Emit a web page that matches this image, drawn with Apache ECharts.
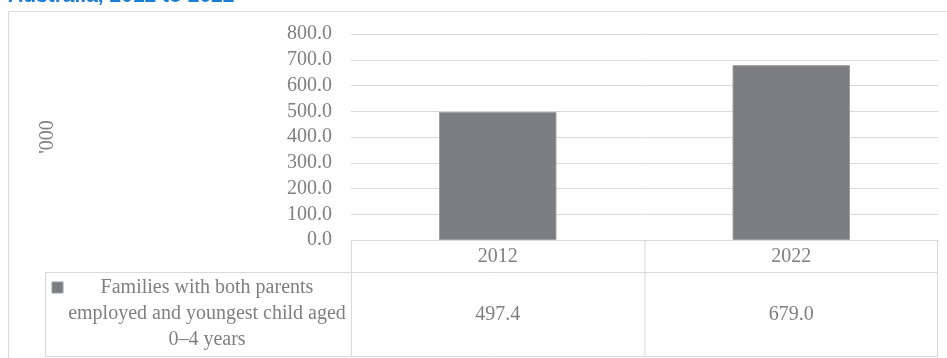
<!DOCTYPE html>
<html>
<head>
<meta charset="utf-8">
<script src="https://cdn.jsdelivr.net/npm/echarts@6/dist/echarts.min.js"></script>
<style>
  html, body { margin: 0; padding: 0; background: #ffffff; }
  #chart { width: 947px; height: 358px; }
</style>
</head>
<body>
<div id="chart"></div>
<script>
// Chart data
const titleText = 'Australia, 2012 to 2022';
const categories = ['2012', '2022'];
const seriesName = 'Families with both parents\nemployed and youngest child aged\n0\u20134 years';
const values = [497.4, 679.0];
const unitLabel = "'000";

const SERIF = 'Liberation Serif';
const TEXT_GREY = '#7f7f7f';
const LINE_GREY = '#d9d9d9';
const BAR_FILL = '#7c7d81';

const chart = echarts.init(document.getElementById('chart'), null, { renderer: 'canvas' });

const gridLeft = 351, gridRight = 938, gridTop = 34, gridBottom = 240;
const tableLeft = 45, headerBottom = 272, tableBottom = 356;

chart.setOption({
  animation: false,
  backgroundColor: '#ffffff',
  grid: { left: gridLeft, right: 947 - gridRight, top: gridTop, bottom: 358 - gridBottom, containLabel: false },
  xAxis: [
    {
      type: 'category',
      data: categories,
      axisLine: { show: true, lineStyle: { color: LINE_GREY, width: 1 } },
      axisTick: { show: false },
      axisLabel: { color: TEXT_GREY, fontFamily: SERIF, fontSize: 20, margin: 7 },
      splitLine: { show: false }
    },
    {
      // value row of the data table
      type: 'category',
      data: categories,
      position: 'bottom',
      offset: 60,
      axisLine: { show: false },
      axisTick: { show: false },
      axisLabel: {
        color: TEXT_GREY, fontFamily: SERIF, fontSize: 20, margin: 5,
        formatter: (v, i) => values[i].toFixed(1)
      }
    }
  ],
  yAxis: {
    type: 'value',
    min: 0,
    max: 800,
    interval: 100,
    name: unitLabel,
    nameLocation: 'middle',
    nameGap: 293,
    nameRotate: 90,
    nameTextStyle: { color: TEXT_GREY, fontFamily: SERIF, fontSize: 20 },
    axisLine: { show: false },
    axisTick: { show: false },
    axisLabel: { color: TEXT_GREY, fontFamily: SERIF, fontSize: 20, margin: 19, formatter: v => v.toFixed(1) },
    splitLine: { lineStyle: { color: LINE_GREY, width: 1 } }
  },
  series: [
    {
      name: seriesName,
      type: 'bar',
      xAxisIndex: 0,
      data: values,
      barCategoryGap: '60%',
      itemStyle: { color: BAR_FILL, borderColor: '#9c9ca0', borderWidth: 1 }
    }
  ],
  graphic: [
    // outer frame
    { type: 'rect', shape: { x: 8.5, y: 11.5, width: 945, height: 380 },
      style: { fill: 'none', stroke: LINE_GREY, lineWidth: 1 }, silent: true, z: 0 },
    // title (last line of the heading)
    { type: 'text', left: 8, top: -14,
      style: { text: titleText, fill: '#1a7fd4', font: 'bold 21px "Liberation Sans", Arial, sans-serif' }, z: 10 },
    // data table lines
    { type: 'polyline', silent: true, z: 5,
      shape: { points: [[gridLeft + 0.5, gridBottom], [gridLeft + 0.5, tableBottom + 0.5]] },
      style: { stroke: LINE_GREY, lineWidth: 1 } },
    { type: 'polyline', silent: true, z: 5,
      shape: { points: [[(gridLeft + gridRight) / 2 + 0.5, gridBottom], [(gridLeft + gridRight) / 2 + 0.5, tableBottom + 0.5]] },
      style: { stroke: LINE_GREY, lineWidth: 1 } },
    { type: 'polyline', silent: true, z: 5,
      shape: { points: [[gridRight - 0.5, gridBottom], [gridRight - 0.5, tableBottom + 0.5]] },
      style: { stroke: LINE_GREY, lineWidth: 1 } },
    { type: 'polyline', silent: true, z: 5,
      shape: { points: [[tableLeft + 0.5, headerBottom + 0.5], [gridRight, headerBottom + 0.5]] },
      style: { stroke: LINE_GREY, lineWidth: 1 } },
    { type: 'polyline', silent: true, z: 5,
      shape: { points: [[tableLeft + 0.5, tableBottom + 0.5], [gridRight, tableBottom + 0.5]] },
      style: { stroke: LINE_GREY, lineWidth: 1 } },
    { type: 'polyline', silent: true, z: 5,
      shape: { points: [[tableLeft + 0.5, headerBottom + 0.5], [tableLeft + 0.5, tableBottom + 0.5]] },
      style: { stroke: LINE_GREY, lineWidth: 1 } },
    // legend key in the data table
    { type: 'rect', silent: true, z: 6,
      shape: { x: 52, y: 282, width: 11, height: 11 },
      style: { fill: BAR_FILL, stroke: '#9c9ca0', lineWidth: 1 } },
    { type: 'text', silent: true, z: 6, x: 207, y: 275,
      style: { text: seriesName, fill: TEXT_GREY, font: '20px ' + SERIF, align: 'center', verticalAlign: 'top', lineHeight: 26 } }
  ]
});
</script>
</body>
</html>
